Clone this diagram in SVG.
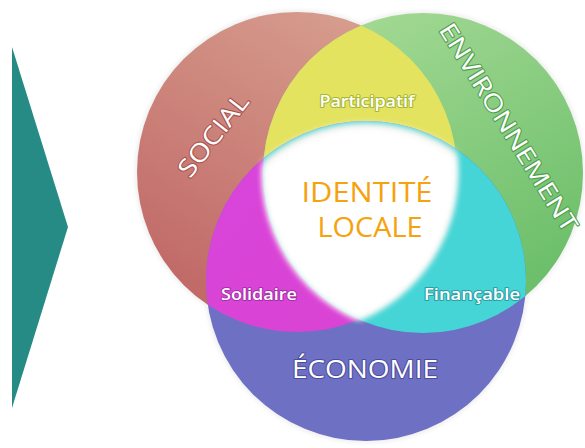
<svg xmlns="http://www.w3.org/2000/svg" width="585" height="448" viewBox="0 0 585 448">
<style>
text{font-family:"Open Sans","Noto Sans","DejaVu Sans",sans-serif;text-anchor:middle;paint-order:stroke;stroke-linejoin:round}
.lbl{fill:#ffffff}
.big{fill:#f5a20f;font-size:28px}
</style>
<defs>
<clipPath id="cS"><circle cx="297" cy="172" r="160"/></clipPath>
<clipPath id="cE"><circle cx="423" cy="173" r="160"/></clipPath>
<clipPath id="cC"><circle cx="366" cy="281" r="160"/></clipPath>
<linearGradient id="gS" x1="0.8" y1="0" x2="0.2" y2="1">
<stop offset="0" stop-color="#d8a190"/>
<stop offset="1" stop-color="#bf6564"/>
</linearGradient>
<linearGradient id="gE" x1="0.2" y1="0" x2="0.8" y2="1">
<stop offset="0" stop-color="#a6da96"/>
<stop offset="1" stop-color="#66bc66"/>
</linearGradient>
<linearGradient id="gM" x1="0" y1="0" x2="1" y2="1">
<stop offset="0" stop-color="#d845dc"/>
<stop offset="1" stop-color="#dc42cc"/>
</linearGradient>
<filter id="soft" x="-20%" y="-20%" width="140%" height="140%"><feGaussianBlur stdDeviation="3"/></filter>
<filter id="halo" x="-10%" y="-10%" width="120%" height="120%"><feGaussianBlur stdDeviation="2"/></filter>
</defs>
<g id="arrow"><polygon points="12,47 68,227 12,408" fill="#268b85"/></g>
<g id="halos" filter="url(#halo)" fill="#eeeeee">
<circle cx="297" cy="172" r="162"/><circle cx="423" cy="173" r="162"/><circle cx="366" cy="281" r="162"/>
</g>
<g id="node-social"><circle cx="297" cy="172" r="160" fill="url(#gS)"/></g>
<g id="node-environnement"><circle cx="423" cy="173" r="160" fill="url(#gE)"/></g>
<g id="node-economie"><circle cx="366" cy="281" r="160" fill="#6e70c3"/></g>
<g id="node-participatif" clip-path="url(#cS)"><circle cx="423" cy="173" r="160" fill="#e3e35f"/></g>
<g id="node-solidaire" clip-path="url(#cS)"><circle cx="366" cy="281" r="160" fill="url(#gM)"/></g>
<g id="node-financable" clip-path="url(#cE)"><circle cx="366" cy="281" r="160" fill="#45d5d6"/></g>
<g id="node-identite">
<g filter="url(#soft)"><g clip-path="url(#cS)"><g clip-path="url(#cE)"><circle cx="366" cy="281" r="158" fill="#f4efe9"/></g></g></g>
<g filter="url(#soft)"><g clip-path="url(#cS)"><g clip-path="url(#cE)"><circle cx="366" cy="279" r="152" fill="#ffffff"/></g></g></g>
</g>
<g id="labels">
<text class="lbl" x="213" y="144" font-size="25" stroke="#a8524f" stroke-width="2" transform="rotate(-52 213 135)" textLength="98" lengthAdjust="spacingAndGlyphs">SOCIAL</text>
<text class="lbl" x="509" y="136" font-size="24" stroke="#4e9d4d" stroke-width="2" transform="rotate(58.3 509 127)" textLength="240" lengthAdjust="spacingAndGlyphs">ENVIRONNEMENT</text>
<text class="lbl" x="367" y="107" font-size="16" font-weight="600" stroke="#a8b832" stroke-width="2" textLength="95" lengthAdjust="spacingAndGlyphs">Participatif</text>
<text class="big" x="367" y="202" textLength="131" lengthAdjust="spacingAndGlyphs">IDENTITÉ</text>
<text class="big" x="370" y="237" textLength="105" lengthAdjust="spacingAndGlyphs">LOCALE</text>
<text class="lbl" x="259" y="300" font-size="17" font-weight="600" stroke="#a52fa8" stroke-width="2" textLength="76" lengthAdjust="spacingAndGlyphs">Solidaire</text>
<text class="lbl" x="472" y="300" font-size="17" font-weight="600" stroke="#2a9ea3" stroke-width="2" textLength="96" lengthAdjust="spacingAndGlyphs">Finançable</text>
<text class="lbl" x="365" y="378" font-size="25" stroke="#4c4c9c" stroke-width="2" textLength="146" lengthAdjust="spacingAndGlyphs">ÉCONOMIE</text>
</g>
</svg>
